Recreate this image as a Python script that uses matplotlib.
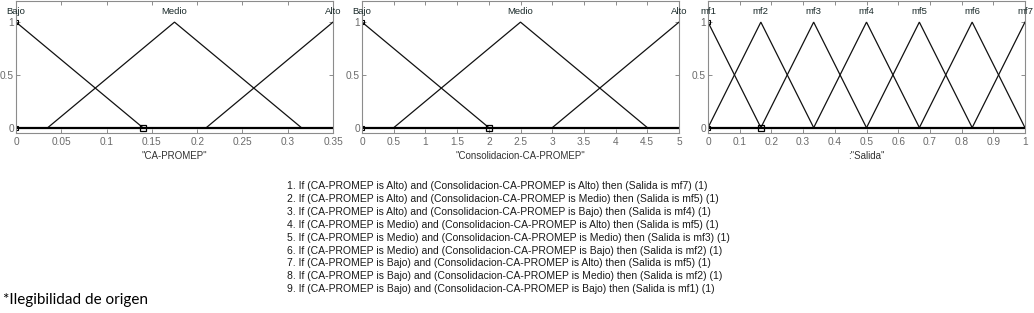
import numpy as np
import matplotlib
matplotlib.use("Agg")
import matplotlib.pyplot as plt

# ---- data ----
in1_name = '"CA-PROMEP"'
in1_range = [0.0, 0.35]
in1_mf_names = ["Bajo", "Medio", "Alto"]
in1_mf_params = [[-0.14, 0.0, 0.14], [0.035, 0.175, 0.315], [0.21, 0.35, 0.49]]
in1_xticks = [0, 0.05, 0.1, 0.15, 0.2, 0.25, 0.3, 0.35]
in1_sel = 0.14

in2_name = '"Consolidacion-CA-PROMEP"'
in2_range = [0.0, 5.0]
in2_mf_names = ["Bajo", "Medio", "Alto"]
in2_mf_params = [[-2.0, 0.0, 2.0], [0.5, 2.5, 4.5], [3.0, 5.0, 7.0]]
in2_xticks = [0, 0.5, 1, 1.5, 2, 2.5, 3, 3.5, 4, 4.5, 5]
in2_sel = 2.0

out_name = ':"Salida"'
out_range = [0.0, 1.0]
out_mf_names = ["mf1", "mf2", "mf3", "mf4", "mf5", "mf6", "mf7"]
out_mf_params = [[-0.1667, 0.0, 0.1667], [0.0, 0.1667, 0.3333], [0.1667, 0.3333, 0.5],
                 [0.3333, 0.5, 0.6667], [0.5, 0.6667, 0.8333], [0.6667, 0.8333, 1.0],
                 [0.8333, 1.0, 1.1667]]
out_xticks = [0, 0.1, 0.2, 0.3, 0.4, 0.5, 0.6, 0.7, 0.8, 0.9, 1]
out_sel = 0.1667

yticks = [0, 0.5, 1]
ytick_labels = ["0", "0.5", "1"]

rules = [
    "1. If (CA-PROMEP is Alto) and (Consolidacion-CA-PROMEP is Alto) then (Salida is mf7) (1)",
    "2. If (CA-PROMEP is Alto) and (Consolidacion-CA-PROMEP is Medio) then (Salida is mf5) (1)",
    "3. If (CA-PROMEP is Alto) and (Consolidacion-CA-PROMEP is Bajo) then (Salida is mf4) (1)",
    "4. If (CA-PROMEP is Medio) and (Consolidacion-CA-PROMEP is Alto) then (Salida is mf5) (1)",
    "5. If (CA-PROMEP is Medio) and (Consolidacion-CA-PROMEP is Medio) then (Salida is mf3) (1)",
    "6. If (CA-PROMEP is Medio) and (Consolidacion-CA-PROMEP is Bajo) then (Salida is mf2) (1)",
    "7. If (CA-PROMEP is Bajo) and (Consolidacion-CA-PROMEP is Alto) then (Salida is mf5) (1)",
    "8. If (CA-PROMEP is Bajo) and (Consolidacion-CA-PROMEP is Medio) then (Salida is mf2) (1)",
    "9. If (CA-PROMEP is Bajo) and (Consolidacion-CA-PROMEP is Bajo) then (Salida is mf1) (1)",
]
footnote = "*Ilegibilidad de origen"

# ---- figure ----
W, H = 1034, 313
fig = plt.figure(figsize=(W / 100, H / 100), dpi=100)
fig.patch.set_facecolor("white")

def px_axes(x0, x1, y0, y1):
    return fig.add_axes([x0 / W, 1 - y1 / H, (x1 - x0) / W, (y1 - y0) / H])

def trimf(x, p):
    a, b, c = p
    y = np.zeros_like(x)
    left = (x >= a) & (x <= b)
    right = (x > b) & (x <= c)
    if b > a:
        y[left] = (x[left] - a) / (b - a)
    else:
        y[left] = 1.0
    if c > b:
        y[right] = (c - x[right]) / (c - b)
    return y

gray = "#8c8c8c"
label_gray = "#6a6a6a"

def draw_panel(ax, rng, names, params, xticks, xlabel, sel):
    x = np.unique(np.concatenate([np.linspace(rng[0], rng[1], 2001),
                                  np.array(params).ravel()]))
    x = x[(x >= rng[0]) & (x <= rng[1])]
    for name, p in zip(names, params):
        ax.plot(x, trimf(x, p), color="#111111", lw=0.9, solid_joinstyle="miter")
        ax.text(p[1], 1.1, name, ha="center", va="center", fontsize=6.8,
                family="Liberation Sans", color="#1a2a2a")
    ax.plot(rng, [0, 0], color="black", lw=1.6)
    ax.plot([sel], [0], marker="s", ms=4, mfc="none", mec="black", mew=0.9)
    ax.plot([rng[0]], [1], marker="s", ms=2.5, mfc="none", mec="black", mew=0.8)
    ax.plot([rng[0]], [0], marker="s", ms=2.5, mfc="none", mec="black", mew=0.8)
    ax.set_xlim(rng)
    ax.set_ylim(-0.05, 1.2)
    ax.set_xticks(xticks)
    ax.set_xticklabels([("%g" % t) for t in xticks])
    ax.set_yticks(yticks)
    ax.set_yticklabels(ytick_labels)
    ax.tick_params(direction="in", length=3, width=0.7, color=gray,
                   labelcolor=label_gray, labelsize=7.3, pad=3,
                   top=True, right=True)
    ax.tick_params(axis="y", pad=1.5)
    for lab in ax.get_xticklabels() + ax.get_yticklabels():
        lab.set_family("Liberation Sans")
    for s in ax.spines.values():
        s.set_color(gray)
        s.set_linewidth(0.8)
    ax.set_xlabel(xlabel, fontsize=7, family="Liberation Sans",
                  color="#333333", labelpad=3)

ax1 = px_axes(16, 333, 1, 133)
draw_panel(ax1, in1_range, in1_mf_names, in1_mf_params, in1_xticks, in1_name, in1_sel)
ax2 = px_axes(362, 679, 1, 133)
draw_panel(ax2, in2_range, in2_mf_names, in2_mf_params, in2_xticks, in2_name, in2_sel)
ax3 = px_axes(708, 1025, 1, 133)
draw_panel(ax3, out_range, out_mf_names, out_mf_params, out_xticks, out_name, out_sel)

for i, r in enumerate(rules):
    fig.text(287 / W, 1 - (186 + i * 12.9) / H, r, ha="left", va="center",
             fontsize=7.5, family="Liberation Sans", color="#1a1a1a")

fig.text(3 / W, 1 - 300 / H, footnote, ha="left", va="center",
         fontsize=11, family="Lato", color="black")

fig.savefig("out.png", dpi=100, facecolor="white")
